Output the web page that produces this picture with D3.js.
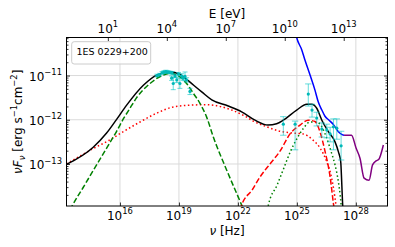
<!DOCTYPE html>
<html>
<head>
<meta charset="utf-8">
<script src="https://cdn.jsdelivr.net/npm/d3@7"></script>
<style>
  body { margin: 0; background: #fff; }
  svg { display: block; font-family: "DejaVu Sans", sans-serif; }
</style>
</head>
<body>
<svg id="chart" width="395" height="247"></svg>
<script>
// all values are log10(nu / Hz) and log10(nuFnu / erg s^-1 cm^-2)
const sourceName = '1ES 0229+200';

const nuTicks = [1e16, 1e19, 1e22, 1e25, 1e28];
const energyTicks = [1e1, 1e4, 1e7, 1e10, 1e13];
const fluxTicks = [1e-11, 1e-12, 1e-13];

const totalModel = [[13.28, -13.01], [14.64, -12.62], [15.32, -12.30], [15.83, -11.99], [16.34, -11.67],
    [17.19, -11.22], [17.87, -10.99], [18.54, -10.92], [19.05, -10.97], [19.31, -11.06], [20.16, -11.37],
    [20.67, -11.55], [21.51, -11.69], [22.19, -11.82], [22.87, -12.01], [23.53, -12.12], [23.97, -12.09],
    [24.31, -12.01], [24.99, -11.78], [25.50, -11.65], [25.76, -11.65], [26.01, -11.74], [26.27, -12.01],
    [26.60, -12.27], [26.94, -12.50], [27.11, -12.72], [27.23, -12.95], [27.28, -13.40], [27.33, -13.93],
    [27.37, -14.15]];

const synchrotron = [[13.46, -14.04], [13.59, -13.93], [14.17, -13.50], [14.81, -13.02], [15.39, -12.59],
    [15.83, -12.26], [16.20, -11.96], [16.51, -11.74], [16.85, -11.50], [17.53, -11.18], [18.20, -10.99],
    [18.54, -10.95], [19.05, -11.03], [19.39, -11.18], [19.73, -11.40], [20.07, -11.63], [20.41, -11.94],
    [20.75, -12.39], [21.43, -13.14], [22.19, -13.93], [22.31, -14.06]];

const protonSync = [[13.28, -13.00], [13.96, -12.82], [14.64, -12.65], [15.39, -12.48], [16.20, -12.26],
    [17.02, -12.05], [17.87, -11.85], [18.71, -11.71], [19.56, -11.67], [20.33, -11.66], [21.00, -11.69],
    [21.68, -11.78], [22.36, -11.92], [22.78, -12.03], [23.47, -12.16], [24.14, -12.26], [24.80, -12.30],
    [25.31, -12.32], [25.82, -12.46], [26.18, -12.64], [26.52, -12.95], [26.77, -13.32], [26.94, -13.77],
    [27.02, -14.04]];

const ssc = [[22.11, -14.04], [22.19, -13.93], [22.72, -13.59], [23.13, -13.29], [23.63, -13.00],
    [24.14, -12.71], [24.65, -12.32], [25.16, -12.12], [25.57, -12.01], [25.92, -12.04], [26.18, -12.28],
    [26.43, -12.71], [26.69, -13.29], [26.87, -13.93], [26.92, -14.09]];

const pionDecay = [[23.51, -14.04], [23.55, -13.93], [23.99, -13.48], [24.33, -13.10], [24.67, -12.72],
    [25.01, -12.42], [25.34, -12.19], [25.67, -12.05], [26.01, -12.05], [26.27, -12.16], [26.52, -12.42],
    [26.77, -12.76], [26.94, -13.02], [27.11, -13.40], [27.20, -13.70], [27.25, -13.93], [27.27, -14.09]];

const sensitivityA = [[24.86, -9.86], [24.99, -10.14], [25.25, -10.42], [25.41, -10.65], [25.67, -10.99],
    [25.92, -11.33], [26.09, -11.60], [26.27, -11.78], [26.43, -11.92], [26.64, -12.01], [26.86, -12.11],
    [27.11, -12.27], [27.28, -12.33], [27.40, -12.35]];

const sensitivityB = [[27.40, -12.35], [27.78, -12.35], [28.01, -12.64], [28.21, -12.87], [28.42, -13.32],
    [28.67, -13.37], [28.85, -13.02], [29.03, -12.93], [29.16, -12.90], [29.40, -12.57]];

// optical / X-ray data: position and symmetric error in dex
const xrayNu = [17.88, 18.01, 18.14, 18.24, 18.34, 18.44, 18.54, 18.65, 18.63, 18.71, 18.80, 18.89,
    18.98, 19.05, 19.14, 19.22, 19.31, 19.39, 19.56];
const xrayFlux = [-11.00, -10.98, -10.94, -10.92, -10.91, -10.92, -10.93, -10.94, -11.06, -11.18, -11.01,
    -11.10, -10.97, -11.18, -11.01, -11.06, -11.02, -11.10, -11.36];
const xrayErr = [0.03, 0.03, 0.03, 0.03, 0.03, 0.03, 0.03, 0.03, 0.05, 0.14, 0.04, 0.06, 0.04, 0.11,
    0.05, 0.05, 0.10, 0.05, 0.07];

// gamma-ray data: value and error-bar ends
const gammaNu = [24.31, 24.91, 25.58, 25.77, 26.01, 26.27, 26.52, 26.69, 26.86, 27.03, 27.25];
const gammaFlux = [-12.10, -12.10, -11.42, -11.78, -11.96, -12.21, -12.23, -12.32, -12.16, -12.19, -12.59];
const gammaHigh = [-11.93, -12.03, -11.19, -11.65, -11.83, -12.07, -12.10, -12.17, -11.98, -11.98, -12.26];
const gammaLow = [-12.35, -12.68, -11.69, -11.94, -12.14, -12.39, -12.41, -12.50, -12.68, -12.44, -12.91];

const hPlanck = 4.135667e-15; // eV s

const frame = {left: 66.5, top: 37.5, right: 387.5, bottom: 206};
const svg = d3.select('#chart');

const x = d3.scaleLog().domain([10 ** 13.28, 10 ** 29.61]).range([frame.left, frame.right]);
const y = d3.scaleLog().domain([10 ** -13.95, 10 ** -10.14]).range([frame.bottom, frame.top]);
const xE = d3.scaleLog().domain(x.domain().map(v => v * hPlanck)).range(x.range());

const px = v => x(10 ** v),
    py = v => y(10 ** v);

function powLabel(text, exp) {
    text.append('tspan').text('10');
    text.append('tspan')
        .attr('dy', -5.4)
        .attr('font-size', 8.4)
        .text(String(exp).replace('-', '\u2212'));
}

// grid
const grid = svg.append('g').attr('stroke', '#dadada').attr('stroke-width', 1);
grid.selectAll('.gx').data(nuTicks).join('line')
    .attr('x1', d => x(d)).attr('x2', d => x(d))
    .attr('y1', frame.top).attr('y2', frame.bottom);
grid.selectAll('.gy').data(fluxTicks).join('line')
    .attr('x1', frame.left).attr('x2', frame.right)
    .attr('y1', d => y(d)).attr('y2', d => y(d));

// curves
svg.append('defs').append('clipPath').attr('id', 'plot-clip')
    .append('rect')
    .attr('x', frame.left).attr('y', frame.top)
    .attr('width', frame.right - frame.left).attr('height', frame.bottom - frame.top);

const line = d3.line()
    .x(d => px(d[0]))
    .y(d => py(d[1]))
    .curve(d3.curveMonotoneX);

const curves = [
    {data: protonSync, color: '#ff0000', dash: '1.5,2.5'},
    {data: synchrotron, color: '#008000', dash: '5.5,2.4'},
    {data: pionDecay, color: '#008000', dash: '1.5,2.5'},
    {data: ssc, color: '#ff0000', dash: '5.5,2.4'},
    {data: sensitivityA, color: '#0000ff', dash: null},
    {data: sensitivityB, color: '#800080', dash: null},
    {data: totalModel, color: '#000000', dash: null}
];

const plot = svg.append('g').attr('clip-path', 'url(#plot-clip)');

plot.selectAll('path.curve').data(curves).join('path')
    .attr('class', 'curve')
    .attr('d', d => line(d.data))
    .attr('fill', 'none')
    .attr('stroke', d => d.color)
    .attr('stroke-width', 1.5)
    .attr('stroke-dasharray', d => d.dash);

// data points with error bars
const points = [];
xrayNu.forEach((n, i) => points.push({
    nu: n, f: xrayFlux[i], hi: xrayFlux[i] + xrayErr[i], lo: xrayFlux[i] - xrayErr[i], cap: 2.5
}));
gammaNu.forEach((n, i) => points.push({
    nu: n, f: gammaFlux[i], hi: gammaHigh[i], lo: gammaLow[i], cap: 3.2
}));

const bars = plot.append('g')
    .attr('stroke', '#00c4c4')
    .attr('stroke-opacity', 0.6)
    .attr('stroke-width', 1);

bars.selectAll('line.bar').data(points).join('line')
    .attr('class', 'bar')
    .attr('x1', d => px(d.nu)).attr('x2', d => px(d.nu))
    .attr('y1', d => py(d.hi)).attr('y2', d => py(d.lo));
bars.selectAll('line.cap-hi').data(points).join('line')
    .attr('class', 'cap-hi')
    .attr('x1', d => px(d.nu) - d.cap).attr('x2', d => px(d.nu) + d.cap)
    .attr('y1', d => py(d.hi)).attr('y2', d => py(d.hi));
bars.selectAll('line.cap-lo').data(points).join('line')
    .attr('class', 'cap-lo')
    .attr('x1', d => px(d.nu) - d.cap).attr('x2', d => px(d.nu) + d.cap)
    .attr('y1', d => py(d.lo)).attr('y2', d => py(d.lo));

plot.append('g').selectAll('circle').data(points).join('circle')
    .attr('cx', d => px(d.nu))
    .attr('cy', d => py(d.f))
    .attr('r', 1.6)
    .attr('fill', '#00b8b8');

// axes (ticks pointing inwards)
const minorFlux = [];
for (let k = -14; k <= -11; k++) {
    for (let m = 2; m <= 9; m++) {
        const v = m * 10 ** k;
        if (v > y.domain()[0] && v < y.domain()[1]) minorFlux.push(v);
    }
}

const axes = svg.append('g').attr('font-size', 12).attr('fill', '#000');

axes.append('g').attr('transform', `translate(0,${frame.bottom})`)
    .call(d3.axisBottom(x).tickValues(nuTicks).tickSize(-3.5).tickFormat(''));
axes.append('g').attr('transform', `translate(0,${frame.top})`)
    .call(d3.axisTop(xE).tickValues(energyTicks).tickSize(-3.5).tickFormat(''));
axes.append('g').attr('transform', `translate(${frame.left},0)`)
    .call(d3.axisLeft(y).tickValues(fluxTicks).tickSize(-3.5).tickFormat(''));
axes.append('g').attr('transform', `translate(${frame.left},0)`)
    .call(d3.axisLeft(y).tickValues(minorFlux).tickSize(-2).tickFormat(''));
axes.append('g').attr('transform', `translate(${frame.right},0)`)
    .call(d3.axisRight(y).tickValues(fluxTicks).tickSize(-3.5).tickFormat(''));
axes.append('g').attr('transform', `translate(${frame.right},0)`)
    .call(d3.axisRight(y).tickValues(minorFlux).tickSize(-2).tickFormat(''));
axes.selectAll('.domain').remove();
axes.selectAll('.tick line').attr('stroke-width', 0.8);

svg.append('rect')
    .attr('x', frame.left).attr('y', frame.top)
    .attr('width', frame.right - frame.left).attr('height', frame.bottom - frame.top)
    .attr('fill', 'none').attr('stroke', '#000').attr('stroke-width', 1);

// tick labels
axes.append('g').selectAll('text').data(nuTicks).join('text')
    .attr('x', d => x(d)).attr('y', frame.bottom + 13.5)
    .attr('text-anchor', 'middle')
    .each(function(d) { powLabel(d3.select(this), Math.round(Math.log10(d))); });

axes.append('g').selectAll('text').data(energyTicks).join('text')
    .attr('x', d => xE(d)).attr('y', frame.top - 5)
    .attr('text-anchor', 'middle')
    .each(function(d) { powLabel(d3.select(this), Math.round(Math.log10(d))); });

axes.append('g').selectAll('text').data(fluxTicks).join('text')
    .attr('x', frame.left - 4.5).attr('y', d => y(d) + 5)
    .attr('text-anchor', 'end')
    .each(function(d) { powLabel(d3.select(this), Math.round(Math.log10(d))); });

// axis titles
const xTitle = axes.append('text')
    .attr('x', (frame.left + frame.right) / 2).attr('y', 234.5)
    .attr('text-anchor', 'middle');
xTitle.append('tspan').attr('font-style', 'italic').text('\u03bd');
xTitle.append('tspan').text(' [Hz]');

axes.append('text')
    .attr('x', (frame.left + frame.right) / 2).attr('y', 17.5)
    .attr('text-anchor', 'middle')
    .text('E [eV]');

const yTitle = axes.append('text')
    .attr('transform', `translate(22,${(frame.top + frame.bottom) / 2}) rotate(-90)`)
    .attr('text-anchor', 'middle');
yTitle.append('tspan').attr('font-style', 'italic').text('\u03bdF');
yTitle.append('tspan').attr('font-style', 'italic').attr('font-size', 8.4).attr('dy', 2.5).text('\u03bd');
yTitle.append('tspan').attr('dy', -2.5).text(' [erg s');
yTitle.append('tspan').attr('font-size', 8.4).attr('dy', -5.4).text('\u22121');
yTitle.append('tspan').attr('dy', 5.4).text('cm');
yTitle.append('tspan').attr('font-size', 8.4).attr('dy', -5.4).text('\u22122');
yTitle.append('tspan').attr('dy', 5.4).text(']');

// legend
const legend = svg.append('g').attr('transform', `translate(${frame.left + 5.2},${frame.top + 4.2})`);
legend.append('rect')
    .attr('width', 79).attr('height', 22.3)
    .attr('rx', 2.5)
    .attr('fill', '#fff').attr('fill-opacity', 0.8)
    .attr('stroke', '#cccccc').attr('stroke-width', 1);
legend.append('text')
    .attr('x', 4.8).attr('y', 13)
    .attr('font-size', 9.5)
    .text(sourceName);
</script>
</body>
</html>
